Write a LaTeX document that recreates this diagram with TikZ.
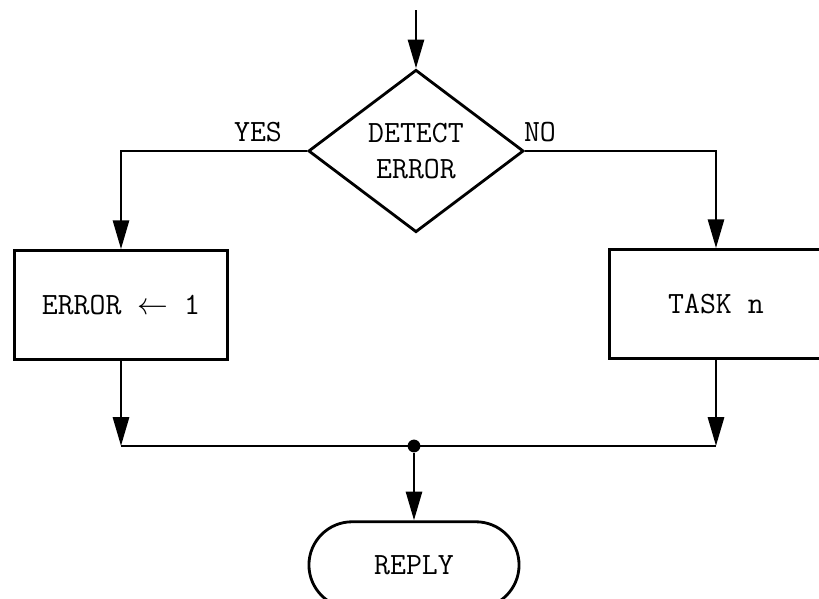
\documentclass[tikz,border=0pt]{standalone}
\usepackage{tikz}
\usetikzlibrary{positioning,arrows.meta,shapes.geometric,shapes.misc,calc}
\tikzset{
  tt/.style={font=\ttfamily\fontsize{11}{13}\selectfont},
  box/.style={draw, line width=1pt, rectangle, tt, align=center, inner sep=2pt,
              minimum width=2.66cm, minimum height=1.36cm},
  decide/.style={draw, line width=1pt, diamond, tt, align=center, inner sep=0pt,
                 minimum width=2.69cm, minimum height=2.03cm},
  term/.style={draw, line width=1pt, rounded rectangle, tt, align=center,
               minimum width=2.86cm, minimum height=1.08cm},
  flow/.style={-{Triangle[length=3.6mm,width=2mm]}, line width=1pt},
  link/.style={line width=1pt},
  junct/.style={circle, fill, inner sep=0pt, minimum size=1.6mm},
}

\begin{document}
\begin{tikzpicture}[x=0.0125cm, y=-0.0125cm]
  \useasboundingbox (0,0) rectangle (819,599);
  \node[decide] (det) at (416,151) {DETECT\\ERROR};
  \coordinate (in) at ($(det.north)+(0,-58)$);
  \node[box] (err) at (121,305) {ERROR $\leftarrow$ 1};
  \node[box] (task) at (716,304) {TASK n};
  \node[junct] (dot) at (414,446) {};
  \node[term] (reply) at (414,565) {REPLY};
  \node[tt] (yes) at (258,132) {YES};
  \node[tt] (no) at (540,132) {NO};
  % branches
  \draw[flow] (in) -- (det.north);
  \draw[flow] (det.west) -| (err.north);
  \draw[flow] (det.east) -| (task.north);
  % merge
  \coordinate (errend) at (err.south |- dot);
  \coordinate (taskend) at (task.south |- dot);
  \draw[flow] (err.south) -- (errend);
  \draw[flow] (task.south) -- (taskend);
  \draw[link] (errend) -- (taskend);
  \draw[flow] (dot) -- (reply.north);
\end{tikzpicture}
\end{document}
